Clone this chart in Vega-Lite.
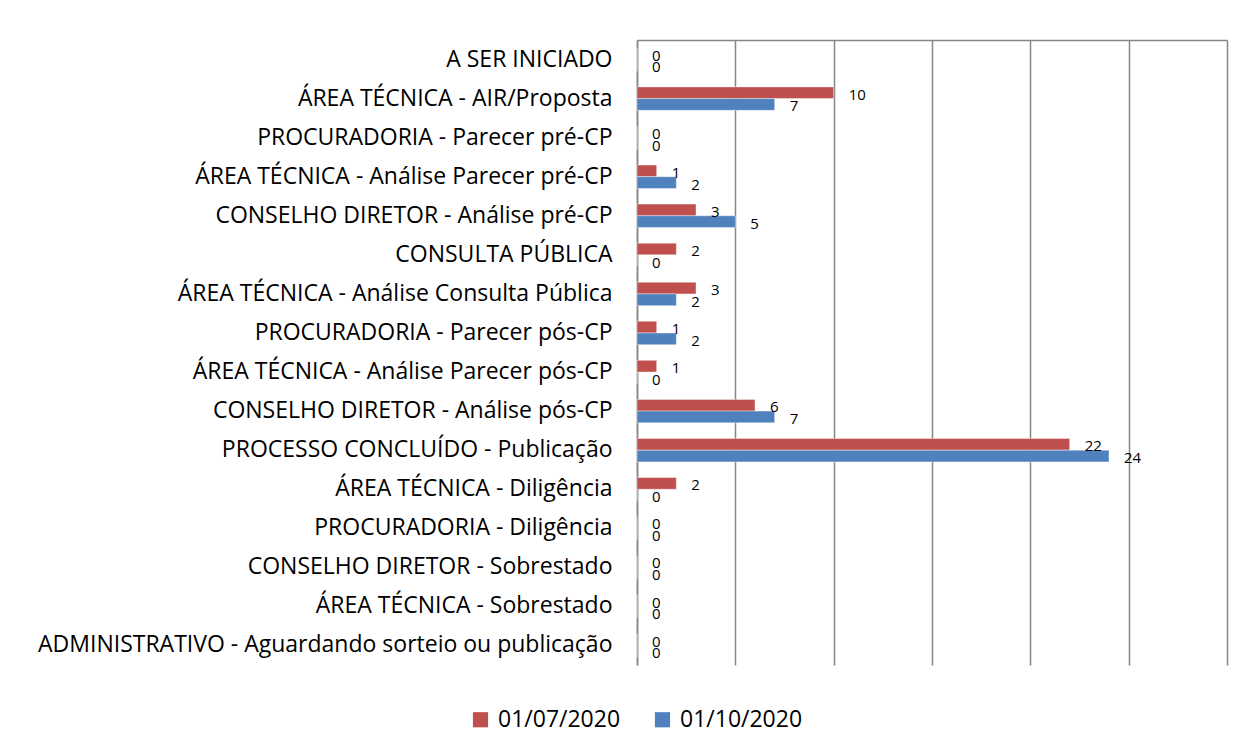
{
  "$schema": "https://vega.github.io/schema/vega-lite/v6.json",
  "width": 590,
  "height": 625,
  "autosize": {"type": "none"},
  "padding": {"left": 637, "top": 40, "right": 16, "bottom": 87},
  "background": "white",
  "config": {
    "font": "Open Sans",
    "view": {"stroke": null}
  },
  "data": {
    "values": [
      {"cat": "A SER INICIADO", "date": "01/07/2020", "value": 0},
      {"cat": "A SER INICIADO", "date": "01/10/2020", "value": 0},
      {"cat": "ÁREA TÉCNICA - AIR/Proposta", "date": "01/07/2020", "value": 10},
      {"cat": "ÁREA TÉCNICA - AIR/Proposta", "date": "01/10/2020", "value": 7},
      {"cat": "PROCURADORIA - Parecer pré-CP", "date": "01/07/2020", "value": 0},
      {"cat": "PROCURADORIA - Parecer pré-CP", "date": "01/10/2020", "value": 0},
      {"cat": "ÁREA TÉCNICA - Análise Parecer pré-CP", "date": "01/07/2020", "value": 1},
      {"cat": "ÁREA TÉCNICA - Análise Parecer pré-CP", "date": "01/10/2020", "value": 2},
      {"cat": "CONSELHO DIRETOR - Análise pré-CP", "date": "01/07/2020", "value": 3},
      {"cat": "CONSELHO DIRETOR - Análise pré-CP", "date": "01/10/2020", "value": 5},
      {"cat": "CONSULTA PÚBLICA", "date": "01/07/2020", "value": 2},
      {"cat": "CONSULTA PÚBLICA", "date": "01/10/2020", "value": 0},
      {"cat": "ÁREA TÉCNICA - Análise Consulta Pública", "date": "01/07/2020", "value": 3},
      {"cat": "ÁREA TÉCNICA - Análise Consulta Pública", "date": "01/10/2020", "value": 2},
      {"cat": "PROCURADORIA - Parecer pós-CP", "date": "01/07/2020", "value": 1},
      {"cat": "PROCURADORIA - Parecer pós-CP", "date": "01/10/2020", "value": 2},
      {"cat": "ÁREA TÉCNICA - Análise Parecer pós-CP", "date": "01/07/2020", "value": 1},
      {"cat": "ÁREA TÉCNICA - Análise Parecer pós-CP", "date": "01/10/2020", "value": 0},
      {"cat": "CONSELHO DIRETOR - Análise pós-CP", "date": "01/07/2020", "value": 6},
      {"cat": "CONSELHO DIRETOR - Análise pós-CP", "date": "01/10/2020", "value": 7},
      {"cat": "PROCESSO CONCLUÍDO - Publicação", "date": "01/07/2020", "value": 22},
      {"cat": "PROCESSO CONCLUÍDO - Publicação", "date": "01/10/2020", "value": 24},
      {"cat": "ÁREA TÉCNICA - Diligência", "date": "01/07/2020", "value": 2},
      {"cat": "ÁREA TÉCNICA - Diligência", "date": "01/10/2020", "value": 0},
      {"cat": "PROCURADORIA - Diligência", "date": "01/07/2020", "value": 0},
      {"cat": "PROCURADORIA - Diligência", "date": "01/10/2020", "value": 0},
      {"cat": "CONSELHO DIRETOR - Sobrestado", "date": "01/07/2020", "value": 0},
      {"cat": "CONSELHO DIRETOR - Sobrestado", "date": "01/10/2020", "value": 0},
      {"cat": "ÁREA TÉCNICA - Sobrestado", "date": "01/07/2020", "value": 0},
      {"cat": "ÁREA TÉCNICA - Sobrestado", "date": "01/10/2020", "value": 0},
      {"cat": "ADMINISTRATIVO - Aguardando sorteio ou publicação", "date": "01/07/2020", "value": 0},
      {"cat": "ADMINISTRATIVO - Aguardando sorteio ou publicação", "date": "01/10/2020", "value": 0}
    ]
  },
  "encoding": {
    "y": {
      "field": "cat",
      "type": "nominal",
      "sort": null,
      "scale": {"paddingInner": 0.4, "paddingOuter": 0.2},
      "axis": {
        "title": null,
        "ticks": false,
        "labelPadding": 25,
        "labelFontSize": 23,
        "labelColor": "black",
        "labelLimit": 700,
        "domainColor": "#868686",
        "domainWidth": 1.5
      }
    },
    "yOffset": {"field": "date", "type": "nominal", "sort": ["01/07/2020", "01/10/2020"]},
    "x": {
      "field": "value",
      "type": "quantitative",
      "scale": {"domain": [0, 30], "nice": false},
      "axis": {
        "orient": "top",
        "title": null,
        "labels": false,
        "ticks": false,
        "values": [0, 5, 10, 15, 20, 25, 30],
        "domainColor": "#868686",
        "domainWidth": 1.5,
        "gridColor": "#868686",
        "gridWidth": 1.5,
        "gridOpacity": 1
      }
    }
  },
  "layer": [
    {
      "mark": {"type": "bar", "stroke": "white", "strokeOpacity": 0.4, "strokeWidth": 1},
      "encoding": {
        "color": {
          "field": "date",
          "type": "nominal",
          "sort": ["01/07/2020", "01/10/2020"],
          "scale": {"range": ["#C0504D", "#4F81BD"]},
          "legend": {
            "title": null,
            "orient": "none",
            "direction": "horizontal",
            "legendX": -168,
            "legendY": 668,
            "symbolType": "square",
            "symbolSize": 230,
            "symbolStrokeWidth": 0,
            "labelFontSize": 23,
            "labelColor": "black",
            "columnPadding": 30,
            "labelOffset": 6
          }
        }
      }
    },
    {
      "mark": {"type": "text", "align": "left", "baseline": "middle", "dx": 15, "dy": 2, "fontSize": 15, "color": "black"},
      "encoding": {"text": {"field": "value", "type": "quantitative"}}
    }
  ]
}
